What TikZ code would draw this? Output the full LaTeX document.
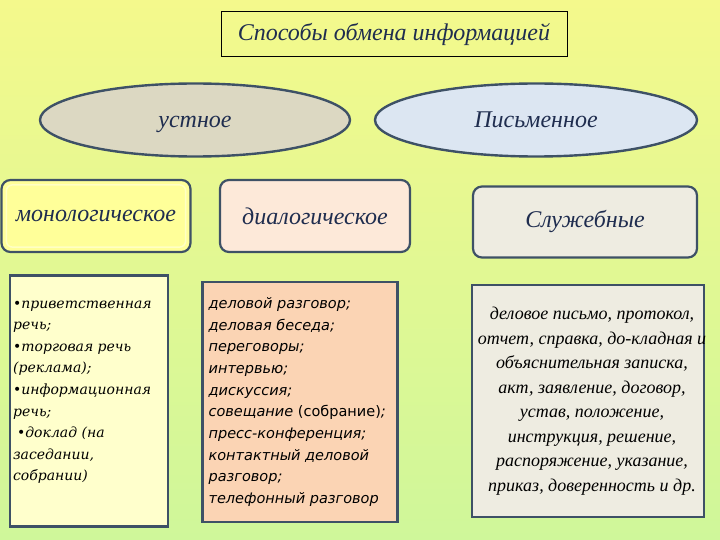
\documentclass[tikz,border=0pt]{standalone}
\usepackage{fontspec}
\setmainfont{Liberation Serif}
\newfontfamily\bookfont{DejaVu Serif}
\newfontfamily\plainsans{DejaVu Sans}
\usetikzlibrary{positioning, shapes.geometric, calc}

\definecolor{bgtop}{HTML}{F4F98C}
\definecolor{bgbottom}{HTML}{CFF79A}
\definecolor{slate}{HTML}{3E5166}
\definecolor{inkblue}{HTML}{1F2D4F}
\definecolor{oralfill}{HTML}{DCD8C2}
\definecolor{writtenfill}{HTML}{DCE6F2}
\definecolor{monofill}{HTML}{FFFF99}
\definecolor{monoglow}{HTML}{FFFFC4}
\definecolor{dialogfill}{HTML}{FDE9D9}
\definecolor{officefill}{HTML}{EEECE1}
\definecolor{monolist}{HTML}{FFFFCC}
\definecolor{dialoglist}{HTML}{FBD4B4}

\begin{document}
\begin{tikzpicture}[
        x=1pt, y=-1pt,
        title/.style={draw=black, thin, minimum width=346pt, minimum height=45pt, text=inkblue, font=\itshape\fontsize{24}{28}\selectfont},
        kind/.style={ellipse, draw=slate, line width=2.4pt, minimum height=73pt, text=inkblue, font=\itshape\fontsize{24}{28}\selectfont},
        heading/.style={rectangle, rounded corners=9pt, draw=slate, line width=2.2pt, minimum height=72pt, text=inkblue, font=\itshape\fontsize{24}{28}\selectfont},
        listbox/.style={rectangle, draw=slate, line width=2.2pt},
        listtext/.style={inner sep=0pt, align=left}
    ]

    % background
    \fill[top color=bgtop, bottom color=bgbottom] (0,0) rectangle (720,540);
    \useasboundingbox (0,0) rectangle (720,540);

    \node[title] (Ways) at (394,34) {Способы обмена информацией};

    \node[kind, fill=oralfill, minimum width=310pt, text height=21pt, text depth=5pt] (Oral) at (195,120) {устное};
    \node[kind, fill=writtenfill, minimum width=322pt] (Written) at (536,120) {Письменное};

    \node[heading, fill=monofill, minimum width=189pt] (Mono) at (96,216) {монологическое};
    \draw[monoglow, line width=1.5pt, rounded corners=6pt] ([shift={(6pt,6pt)}]Mono.south west) rectangle ([shift={(-6pt,-6pt)}]Mono.north east);
    \node[heading, fill=dialogfill, minimum width=190pt] (Dialog) at (315,216) {диалогическое};
    \node[heading, fill=officefill, minimum width=224pt, minimum height=71pt] (Office) at (585,222) {Служебные};

    % lists
    \node[listbox, fill=monolist, minimum width=158pt, minimum height=251pt] (MonoList) at (89,401) {};
    \node[listbox, fill=dialoglist, minimum width=195pt, minimum height=240pt] (DialogList) at (300,402) {};
    \node[listbox, fill=officefill, minimum width=232pt, minimum height=232pt] (OfficeList) at (588,401) {};

    \node[listtext, anchor=north west, font=\bookfont\itshape\fontsize{14}{21.6}\selectfont] (MonoItems) at ([xshift=4pt, yshift=-26pt]MonoList.north west) {%
        •приветственная\\
        речь;\\
        •торговая речь\\
        (реклама);\\
        •информационная\\
        речь;\\
        \hspace{4pt}•доклад (на\\
        заседании,\\
        собрании)};

    \node[listtext, anchor=west, font=\plainsans\itshape\fontsize{14.5}{21.7}\selectfont] (DialogItems) at ([xshift=7pt]DialogList.west) {%
        деловой разговор;\\
        деловая беседа;\\
        переговоры;\\
        интервью;\\
        дискуссия;\\
        совещание {\upshape(собрание)};\\
        пресс-конференция;\\
        контактный деловой\\
        разговор;\\
        телефонный разговор};

    \node[listtext, align=center, font=\itshape\fontsize{18}{24.5}\selectfont] (OfficeItems) at ([xshift=4pt]OfficeList.center) {%
        деловое письмо, протокол,\\
        отчет, справка, до-кладная и\\
        объяснительная записка,\\
        акт, заявление, договор,\\
        устав, положение,\\
        инструкция, решение,\\
        распоряжение, указание,\\
        приказ, доверенность и др.};

\end{tikzpicture}
\end{document}
